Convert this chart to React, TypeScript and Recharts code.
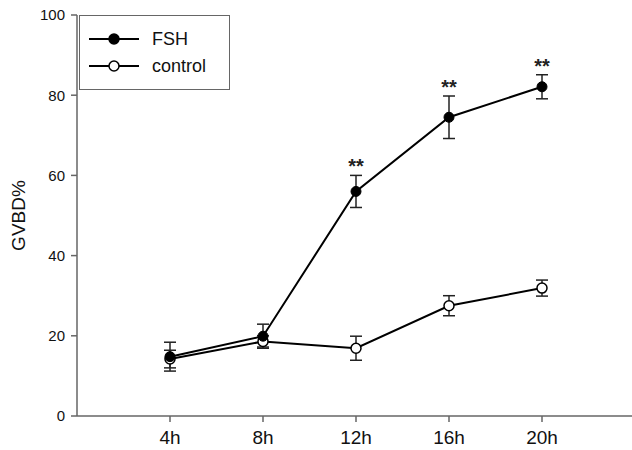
import React from "react";
import {
  ErrorBar,
  Line,
  LineChart,
  ReferenceDot,
  XAxis,
  YAxis,
} from "recharts";

const timeLabels = ["4h", "8h", "12h", "16h", "20h"];
const timePos = [1, 2, 3, 4, 5];
const fshValues = [14.8, 19.9, 56, 74.5, 82.1];
const fshErrors = [3.6, 3, 4, 5.3, 3];
const controlValues = [14.2, 18.6, 16.9, 27.5, 31.9];
const controlErrors = [2.2, 1.4, 3, 2.5, 2];
const significant = [false, false, true, true, true];
const yTicks = [0, 20, 40, 60, 80, 100];

const data = timePos.map((x, i) => ({
  x,
  fsh: fshValues[i],
  fshErr: fshErrors[i],
  control: controlValues[i],
  controlErr: controlErrors[i],
}));

const FONT = "'Liberation Sans', Arial, sans-serif";
const AXIS = "#666";

function LegendBox() {
  const rows = [
    { name: "FSH", fill: "#000" },
    { name: "control", fill: "#fff" },
  ];
  return (
    <svg width={151} height={75}>
      <rect x={0.5} y={0.5} width={150} height={74} fill="#fff" stroke={AXIS} />
      {rows.map((r, i) => {
        const y = 24 + i * 27;
        return (
          <g key={r.name}>
            <line x1={10} x2={60} y1={y} y2={y} stroke="#000" strokeWidth={2} />
            <circle cx={35} cy={y} r={5} fill={r.fill} stroke="#000" strokeWidth={1.5} />
            <text x={73} y={y + 6} fontSize={18} fontFamily={FONT} fill="#111">
              {r.name}
            </text>
          </g>
        );
      })}
    </svg>
  );
}

export default function App() {
  return (
    <div style={{ position: "absolute", left: 0, top: 0, width: 632, height: 450, background: "#fff" }}>
      <LineChart
        width={632}
        height={450}
        data={data}
        margin={{ top: 15, right: -3, bottom: 4, left: 0 }}
      >
        <XAxis
          dataKey="x"
          type="number"
          domain={[0, 6]}
          ticks={timePos}
          tickFormatter={(v: number) => timeLabels[v - 1]}
          height={30}
          stroke={AXIS}
          strokeWidth={1.5}
          tickSize={6}
          tickMargin={9}
          tick={{ fill: "#111", fontSize: 19, fontFamily: FONT }}
        />
        <YAxis
          domain={[0, 100]}
          ticks={yTicks}
          width={77}
          stroke={AXIS}
          strokeWidth={1.5}
          tickSize={6}
          tickMargin={6}
          tick={{ fill: "#111", fontSize: 15, fontFamily: FONT }}
          label={{
            value: "GVBD%",
            angle: -90,
            position: "insideLeft",
            offset: 18,
            style: { fontSize: 19, fontFamily: FONT, fill: "#111", textAnchor: "middle" },
          }}
        />
        <Line
          dataKey="control"
          name="control"
          stroke="#000"
          strokeWidth={2}
          isAnimationActive={false}
          dot={{ r: 5, fill: "#fff", stroke: "#000", strokeWidth: 1.5 }}
        >
          <ErrorBar dataKey="controlErr" width={6} stroke="#222" strokeWidth={1.5} direction="y" />
        </Line>
        <Line
          dataKey="fsh"
          name="FSH"
          stroke="#000"
          strokeWidth={2}
          isAnimationActive={false}
          dot={{ r: 5, fill: "#000", stroke: "#000", strokeWidth: 1 }}
        >
          <ErrorBar dataKey="fshErr" width={6} stroke="#222" strokeWidth={1.5} direction="y" />
        </Line>
        {timePos.map((x, i) =>
          significant[i] ? (
            <ReferenceDot
              key={x}
              x={x}
              y={fshValues[i] + fshErrors[i]}
              r={0}
              fill="none"
              stroke="none"
              label={{
                value: "**",
                position: "top",
                offset: 2,
                style: { fontSize: 20, fontWeight: "bold", fontFamily: FONT, fill: "#222" },
              }}
            />
          ) : null
        )}
      </LineChart>
      <div style={{ position: "absolute", left: 79, top: 15 }}>
        <LegendBox />
      </div>
    </div>
  );
}
